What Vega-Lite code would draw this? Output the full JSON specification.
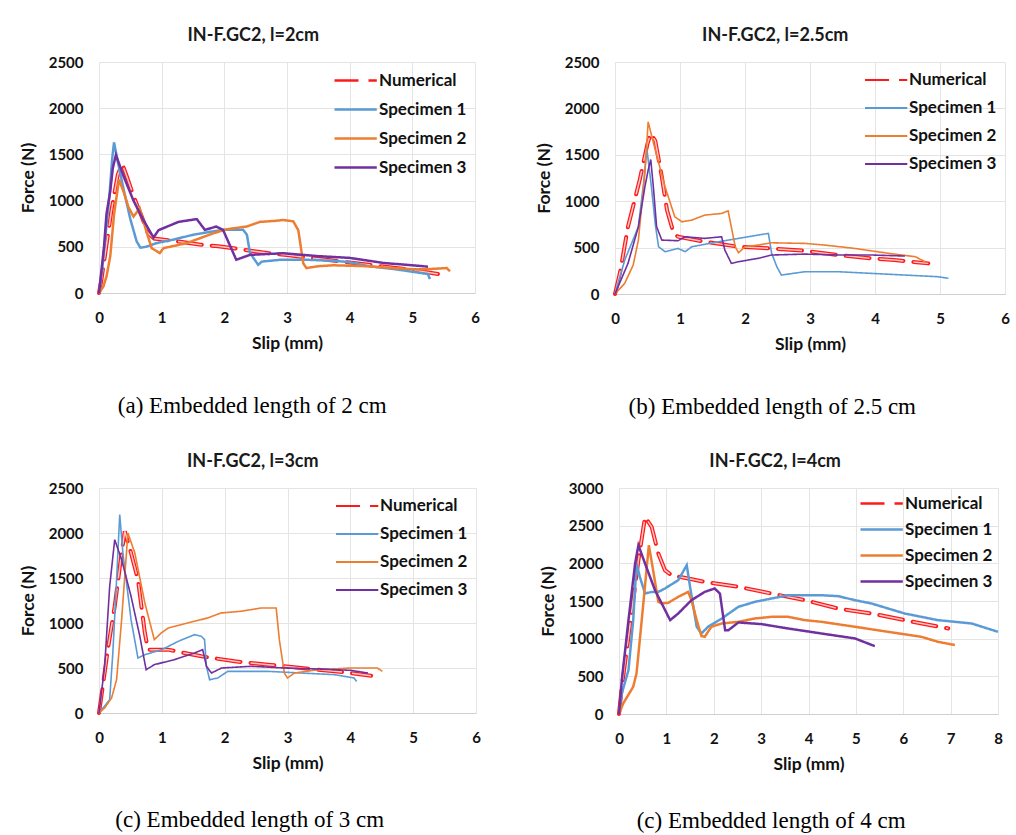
{
  "$schema": "https://vega.github.io/schema/vega-lite/v6.json",
  "background": "white",
  "padding": {"left": 19, "top": 27, "right": 2, "bottom": 2},
  "spacing": 34,
  "resolve": {"scale": {"color": "independent", "strokeDash": "independent"}, "legend": {"color": "independent", "strokeDash": "independent"}},
  "config": {
    "font": "Lato",
    "view": {"stroke": null},
    "title": {"font": "Lato", "fontSize": 18, "fontWeight": "bold", "color": "#1a1a1a", "anchor": "middle", "offset": 10, "frame": "bounds"},
    "axis": {"grid": true, "gridColor": "#e4e4e4", "ticks": false, "domain": false, "labelFont": "Lato", "labelFontSize": 15, "labelFontWeight": "bold", "labelColor": "#111111", "titleFont": "Lato", "titleFontSize": 17.5, "titleFontWeight": "bold", "titleColor": "#111111", "labelOverlap": false, "format": "d"},
    "axisX": {"domain": true, "domainColor": "#d0d0d0", "labelPadding": 17, "titlePadding": 9, "labelFlush": false},
    "axisY": {"labelPadding": 16, "titlePadding": 11},
    "legend": {"orient": "top-right", "offset": 8, "padding": 0, "symbolType": "M-1,0H3.7", "symbolSize": 324, "labelOffset": 25, "labelFont": "Lato", "labelFontSize": 17, "labelFontWeight": "bold", "labelColor": "#111111", "rowPadding": 10, "title": null}
  },
  "datasets": {
    "a": [
      {"s": "Numerical", "x": 0, "y": 0}, {"s": "Numerical", "x": 0.04, "y": 150}, {"s": "Numerical", "x": 0.1, "y": 430}, {"s": "Numerical", "x": 0.2, "y": 900}, {"s": "Numerical", "x": 0.3, "y": 1280}, {"s": "Numerical", "x": 0.37, "y": 1400}, {"s": "Numerical", "x": 0.45, "y": 1250}, {"s": "Numerical", "x": 0.55, "y": 1050}, {"s": "Numerical", "x": 0.68, "y": 830}, {"s": "Numerical", "x": 0.78, "y": 650}, {"s": "Numerical", "x": 0.88, "y": 590}, {"s": "Numerical", "x": 1.0, "y": 580}, {"s": "Numerical", "x": 1.3, "y": 555}, {"s": "Numerical", "x": 1.6, "y": 525}, {"s": "Numerical", "x": 1.9, "y": 505}, {"s": "Numerical", "x": 2.2, "y": 480}, {"s": "Numerical", "x": 2.6, "y": 440}, {"s": "Numerical", "x": 3.0, "y": 410}, {"s": "Numerical", "x": 3.5, "y": 370}, {"s": "Numerical", "x": 4.0, "y": 330}, {"s": "Numerical", "x": 4.5, "y": 290}, {"s": "Numerical", "x": 5.0, "y": 250}, {"s": "Numerical", "x": 5.47, "y": 200},
      {"s": "Specimen 1", "x": 0, "y": 0}, {"s": "Specimen 1", "x": 0.05, "y": 250}, {"s": "Specimen 1", "x": 0.1, "y": 600}, {"s": "Specimen 1", "x": 0.16, "y": 1000}, {"s": "Specimen 1", "x": 0.21, "y": 1450}, {"s": "Specimen 1", "x": 0.24, "y": 1630}, {"s": "Specimen 1", "x": 0.3, "y": 1420}, {"s": "Specimen 1", "x": 0.4, "y": 1100}, {"s": "Specimen 1", "x": 0.5, "y": 800}, {"s": "Specimen 1", "x": 0.6, "y": 560}, {"s": "Specimen 1", "x": 0.66, "y": 490}, {"s": "Specimen 1", "x": 0.75, "y": 500}, {"s": "Specimen 1", "x": 0.92, "y": 540}, {"s": "Specimen 1", "x": 1.2, "y": 580}, {"s": "Specimen 1", "x": 1.5, "y": 630}, {"s": "Specimen 1", "x": 1.8, "y": 665}, {"s": "Specimen 1", "x": 2.0, "y": 685}, {"s": "Specimen 1", "x": 2.3, "y": 685}, {"s": "Specimen 1", "x": 2.36, "y": 630}, {"s": "Specimen 1", "x": 2.41, "y": 432}, {"s": "Specimen 1", "x": 2.54, "y": 305}, {"s": "Specimen 1", "x": 2.6, "y": 340}, {"s": "Specimen 1", "x": 2.9, "y": 360}, {"s": "Specimen 1", "x": 3.3, "y": 360}, {"s": "Specimen 1", "x": 3.7, "y": 350}, {"s": "Specimen 1", "x": 4.0, "y": 335}, {"s": "Specimen 1", "x": 4.3, "y": 290}, {"s": "Specimen 1", "x": 4.7, "y": 260}, {"s": "Specimen 1", "x": 5.0, "y": 230}, {"s": "Specimen 1", "x": 5.25, "y": 205}, {"s": "Specimen 1", "x": 5.28, "y": 150},
      {"s": "Specimen 2", "x": 0, "y": 0}, {"s": "Specimen 2", "x": 0.07, "y": 70}, {"s": "Specimen 2", "x": 0.12, "y": 180}, {"s": "Specimen 2", "x": 0.18, "y": 400}, {"s": "Specimen 2", "x": 0.24, "y": 850}, {"s": "Specimen 2", "x": 0.32, "y": 1230}, {"s": "Specimen 2", "x": 0.4, "y": 1080}, {"s": "Specimen 2", "x": 0.47, "y": 930}, {"s": "Specimen 2", "x": 0.55, "y": 827}, {"s": "Specimen 2", "x": 0.65, "y": 917}, {"s": "Specimen 2", "x": 0.75, "y": 680}, {"s": "Specimen 2", "x": 0.84, "y": 486}, {"s": "Specimen 2", "x": 0.97, "y": 432}, {"s": "Specimen 2", "x": 1.03, "y": 486}, {"s": "Specimen 2", "x": 1.2, "y": 510}, {"s": "Specimen 2", "x": 1.4, "y": 540}, {"s": "Specimen 2", "x": 1.6, "y": 590}, {"s": "Specimen 2", "x": 1.82, "y": 645}, {"s": "Specimen 2", "x": 2.04, "y": 690}, {"s": "Specimen 2", "x": 2.36, "y": 720}, {"s": "Specimen 2", "x": 2.57, "y": 770}, {"s": "Specimen 2", "x": 2.8, "y": 780}, {"s": "Specimen 2", "x": 2.94, "y": 790}, {"s": "Specimen 2", "x": 3.1, "y": 775}, {"s": "Specimen 2", "x": 3.18, "y": 680}, {"s": "Specimen 2", "x": 3.26, "y": 320}, {"s": "Specimen 2", "x": 3.31, "y": 270}, {"s": "Specimen 2", "x": 3.5, "y": 290}, {"s": "Specimen 2", "x": 3.74, "y": 300}, {"s": "Specimen 2", "x": 4.27, "y": 290}, {"s": "Specimen 2", "x": 4.7, "y": 270}, {"s": "Specimen 2", "x": 5.07, "y": 255}, {"s": "Specimen 2", "x": 5.3, "y": 260}, {"s": "Specimen 2", "x": 5.55, "y": 270}, {"s": "Specimen 2", "x": 5.6, "y": 235},
      {"s": "Specimen 3", "x": 0, "y": 0}, {"s": "Specimen 3", "x": 0.04, "y": 250}, {"s": "Specimen 3", "x": 0.08, "y": 500}, {"s": "Specimen 3", "x": 0.12, "y": 860}, {"s": "Specimen 3", "x": 0.18, "y": 1100}, {"s": "Specimen 3", "x": 0.22, "y": 1350}, {"s": "Specimen 3", "x": 0.27, "y": 1495}, {"s": "Specimen 3", "x": 0.4, "y": 1250}, {"s": "Specimen 3", "x": 0.55, "y": 1000}, {"s": "Specimen 3", "x": 0.7, "y": 800}, {"s": "Specimen 3", "x": 0.87, "y": 600}, {"s": "Specimen 3", "x": 0.95, "y": 680}, {"s": "Specimen 3", "x": 1.27, "y": 770}, {"s": "Specimen 3", "x": 1.56, "y": 800}, {"s": "Specimen 3", "x": 1.69, "y": 683}, {"s": "Specimen 3", "x": 1.87, "y": 719}, {"s": "Specimen 3", "x": 1.98, "y": 683}, {"s": "Specimen 3", "x": 2.19, "y": 360}, {"s": "Specimen 3", "x": 2.41, "y": 413}, {"s": "Specimen 3", "x": 2.94, "y": 430}, {"s": "Specimen 3", "x": 3.47, "y": 400}, {"s": "Specimen 3", "x": 4.0, "y": 380}, {"s": "Specimen 3", "x": 4.54, "y": 325}, {"s": "Specimen 3", "x": 5.0, "y": 300}, {"s": "Specimen 3", "x": 5.25, "y": 285}
    ],
    "b": [
      {"s": "Numerical", "x": 0, "y": 0}, {"s": "Numerical", "x": 0.08, "y": 240}, {"s": "Numerical", "x": 0.2, "y": 725}, {"s": "Numerical", "x": 0.38, "y": 1229}, {"s": "Numerical", "x": 0.5, "y": 1620}, {"s": "Numerical", "x": 0.55, "y": 1730}, {"s": "Numerical", "x": 0.62, "y": 1650}, {"s": "Numerical", "x": 0.72, "y": 1264}, {"s": "Numerical", "x": 0.8, "y": 905}, {"s": "Numerical", "x": 0.9, "y": 660}, {"s": "Numerical", "x": 0.97, "y": 617}, {"s": "Numerical", "x": 1.38, "y": 563}, {"s": "Numerical", "x": 1.9, "y": 509}, {"s": "Numerical", "x": 2.41, "y": 491}, {"s": "Numerical", "x": 2.92, "y": 466}, {"s": "Numerical", "x": 3.44, "y": 420}, {"s": "Numerical", "x": 3.95, "y": 384}, {"s": "Numerical", "x": 4.3, "y": 366}, {"s": "Numerical", "x": 4.82, "y": 330},
      {"s": "Specimen 1", "x": 0, "y": 0}, {"s": "Specimen 1", "x": 0.15, "y": 366}, {"s": "Specimen 1", "x": 0.36, "y": 725}, {"s": "Specimen 1", "x": 0.44, "y": 1200}, {"s": "Specimen 1", "x": 0.49, "y": 1567}, {"s": "Specimen 1", "x": 0.56, "y": 1155}, {"s": "Specimen 1", "x": 0.62, "y": 750}, {"s": "Specimen 1", "x": 0.67, "y": 509}, {"s": "Specimen 1", "x": 0.77, "y": 456}, {"s": "Specimen 1", "x": 0.97, "y": 491}, {"s": "Specimen 1", "x": 1.08, "y": 456}, {"s": "Specimen 1", "x": 1.18, "y": 509}, {"s": "Specimen 1", "x": 1.59, "y": 563}, {"s": "Specimen 1", "x": 1.9, "y": 599}, {"s": "Specimen 1", "x": 2.2, "y": 635}, {"s": "Specimen 1", "x": 2.36, "y": 653}, {"s": "Specimen 1", "x": 2.41, "y": 438}, {"s": "Specimen 1", "x": 2.49, "y": 294}, {"s": "Specimen 1", "x": 2.56, "y": 204}, {"s": "Specimen 1", "x": 2.92, "y": 240}, {"s": "Specimen 1", "x": 3.44, "y": 240}, {"s": "Specimen 1", "x": 3.95, "y": 222}, {"s": "Specimen 1", "x": 4.46, "y": 204}, {"s": "Specimen 1", "x": 4.97, "y": 186}, {"s": "Specimen 1", "x": 5.13, "y": 169},
      {"s": "Specimen 2", "x": 0, "y": 0}, {"s": "Specimen 2", "x": 0.15, "y": 115}, {"s": "Specimen 2", "x": 0.28, "y": 312}, {"s": "Specimen 2", "x": 0.36, "y": 581}, {"s": "Specimen 2", "x": 0.46, "y": 1298}, {"s": "Specimen 2", "x": 0.51, "y": 1855}, {"s": "Specimen 2", "x": 0.62, "y": 1550}, {"s": "Specimen 2", "x": 0.77, "y": 1155}, {"s": "Specimen 2", "x": 0.92, "y": 832}, {"s": "Specimen 2", "x": 1.03, "y": 778}, {"s": "Specimen 2", "x": 1.18, "y": 796}, {"s": "Specimen 2", "x": 1.38, "y": 850}, {"s": "Specimen 2", "x": 1.64, "y": 868}, {"s": "Specimen 2", "x": 1.74, "y": 897}, {"s": "Specimen 2", "x": 1.85, "y": 509}, {"s": "Specimen 2", "x": 1.9, "y": 445}, {"s": "Specimen 2", "x": 2.0, "y": 509}, {"s": "Specimen 2", "x": 2.2, "y": 527}, {"s": "Specimen 2", "x": 2.41, "y": 552}, {"s": "Specimen 2", "x": 2.92, "y": 545}, {"s": "Specimen 2", "x": 3.23, "y": 527}, {"s": "Specimen 2", "x": 3.69, "y": 491}, {"s": "Specimen 2", "x": 4.21, "y": 438}, {"s": "Specimen 2", "x": 4.62, "y": 402}, {"s": "Specimen 2", "x": 4.77, "y": 348},
      {"s": "Specimen 3", "x": 0, "y": 0}, {"s": "Specimen 3", "x": 0.2, "y": 330}, {"s": "Specimen 3", "x": 0.36, "y": 725}, {"s": "Specimen 3", "x": 0.46, "y": 1155}, {"s": "Specimen 3", "x": 0.51, "y": 1334}, {"s": "Specimen 3", "x": 0.55, "y": 1449}, {"s": "Specimen 3", "x": 0.59, "y": 1155}, {"s": "Specimen 3", "x": 0.64, "y": 725}, {"s": "Specimen 3", "x": 0.72, "y": 581}, {"s": "Specimen 3", "x": 0.97, "y": 574}, {"s": "Specimen 3", "x": 1.08, "y": 617}, {"s": "Specimen 3", "x": 1.38, "y": 599}, {"s": "Specimen 3", "x": 1.64, "y": 617}, {"s": "Specimen 3", "x": 1.69, "y": 473}, {"s": "Specimen 3", "x": 1.79, "y": 330}, {"s": "Specimen 3", "x": 1.9, "y": 348}, {"s": "Specimen 3", "x": 2.2, "y": 384}, {"s": "Specimen 3", "x": 2.41, "y": 420}, {"s": "Specimen 3", "x": 2.92, "y": 430}, {"s": "Specimen 3", "x": 3.44, "y": 420}, {"s": "Specimen 3", "x": 3.95, "y": 420}, {"s": "Specimen 3", "x": 4.46, "y": 409}
    ],
    "c": [
      {"s": "Numerical", "x": 0, "y": 0}, {"s": "Numerical", "x": 0.06, "y": 296}, {"s": "Numerical", "x": 0.14, "y": 704}, {"s": "Numerical", "x": 0.25, "y": 1185}, {"s": "Numerical", "x": 0.36, "y": 1778}, {"s": "Numerical", "x": 0.41, "y": 2019}, {"s": "Numerical", "x": 0.51, "y": 1778}, {"s": "Numerical", "x": 0.62, "y": 1482}, {"s": "Numerical", "x": 0.73, "y": 889}, {"s": "Numerical", "x": 0.78, "y": 704}, {"s": "Numerical", "x": 1.1, "y": 704}, {"s": "Numerical", "x": 1.63, "y": 630}, {"s": "Numerical", "x": 2.16, "y": 574}, {"s": "Numerical", "x": 2.69, "y": 537}, {"s": "Numerical", "x": 3.22, "y": 500}, {"s": "Numerical", "x": 3.75, "y": 463}, {"s": "Numerical", "x": 4.01, "y": 444}, {"s": "Numerical", "x": 4.33, "y": 415},
      {"s": "Specimen 1", "x": 0, "y": 0}, {"s": "Specimen 1", "x": 0.17, "y": 148}, {"s": "Specimen 1", "x": 0.22, "y": 667}, {"s": "Specimen 1", "x": 0.28, "y": 1482}, {"s": "Specimen 1", "x": 0.33, "y": 2204}, {"s": "Specimen 1", "x": 0.38, "y": 1778}, {"s": "Specimen 1", "x": 0.51, "y": 1037}, {"s": "Specimen 1", "x": 0.62, "y": 611}, {"s": "Specimen 1", "x": 0.73, "y": 648}, {"s": "Specimen 1", "x": 1.0, "y": 704}, {"s": "Specimen 1", "x": 1.26, "y": 796}, {"s": "Specimen 1", "x": 1.52, "y": 870}, {"s": "Specimen 1", "x": 1.63, "y": 852}, {"s": "Specimen 1", "x": 1.68, "y": 815}, {"s": "Specimen 1", "x": 1.71, "y": 519}, {"s": "Specimen 1", "x": 1.76, "y": 370}, {"s": "Specimen 1", "x": 1.89, "y": 389}, {"s": "Specimen 1", "x": 2.05, "y": 463}, {"s": "Specimen 1", "x": 2.69, "y": 463}, {"s": "Specimen 1", "x": 3.22, "y": 444}, {"s": "Specimen 1", "x": 3.75, "y": 426}, {"s": "Specimen 1", "x": 4.06, "y": 389}, {"s": "Specimen 1", "x": 4.1, "y": 350},
      {"s": "Specimen 2", "x": 0, "y": 0}, {"s": "Specimen 2", "x": 0.09, "y": 56}, {"s": "Specimen 2", "x": 0.2, "y": 167}, {"s": "Specimen 2", "x": 0.28, "y": 370}, {"s": "Specimen 2", "x": 0.36, "y": 1037}, {"s": "Specimen 2", "x": 0.46, "y": 2000}, {"s": "Specimen 2", "x": 0.57, "y": 1778}, {"s": "Specimen 2", "x": 0.73, "y": 1222}, {"s": "Specimen 2", "x": 0.88, "y": 815}, {"s": "Specimen 2", "x": 0.99, "y": 889}, {"s": "Specimen 2", "x": 1.1, "y": 944}, {"s": "Specimen 2", "x": 1.41, "y": 1000}, {"s": "Specimen 2", "x": 1.73, "y": 1056}, {"s": "Specimen 2", "x": 1.94, "y": 1111}, {"s": "Specimen 2", "x": 2.26, "y": 1130}, {"s": "Specimen 2", "x": 2.58, "y": 1167}, {"s": "Specimen 2", "x": 2.82, "y": 1167}, {"s": "Specimen 2", "x": 2.87, "y": 815}, {"s": "Specimen 2", "x": 2.95, "y": 444}, {"s": "Specimen 2", "x": 3.0, "y": 389}, {"s": "Specimen 2", "x": 3.11, "y": 444}, {"s": "Specimen 2", "x": 3.48, "y": 481}, {"s": "Specimen 2", "x": 4.01, "y": 500}, {"s": "Specimen 2", "x": 4.43, "y": 500}, {"s": "Specimen 2", "x": 4.51, "y": 463},
      {"s": "Specimen 3", "x": 0, "y": 0}, {"s": "Specimen 3", "x": 0.09, "y": 519}, {"s": "Specimen 3", "x": 0.17, "y": 1407}, {"s": "Specimen 3", "x": 0.25, "y": 1926}, {"s": "Specimen 3", "x": 0.36, "y": 1704}, {"s": "Specimen 3", "x": 0.51, "y": 1296}, {"s": "Specimen 3", "x": 0.65, "y": 852}, {"s": "Specimen 3", "x": 0.75, "y": 481}, {"s": "Specimen 3", "x": 0.88, "y": 537}, {"s": "Specimen 3", "x": 1.2, "y": 593}, {"s": "Specimen 3", "x": 1.52, "y": 667}, {"s": "Specimen 3", "x": 1.65, "y": 704}, {"s": "Specimen 3", "x": 1.71, "y": 519}, {"s": "Specimen 3", "x": 1.79, "y": 444}, {"s": "Specimen 3", "x": 1.95, "y": 500}, {"s": "Specimen 3", "x": 2.42, "y": 519}, {"s": "Specimen 3", "x": 2.95, "y": 500}, {"s": "Specimen 3", "x": 3.48, "y": 489}, {"s": "Specimen 3", "x": 4.01, "y": 474}, {"s": "Specimen 3", "x": 4.28, "y": 444}
    ],
    "d": [
      {"s": "Numerical", "x": 0, "y": 0}, {"s": "Numerical", "x": 0.06, "y": 362}, {"s": "Numerical", "x": 0.2, "y": 1025}, {"s": "Numerical", "x": 0.41, "y": 2041}, {"s": "Numerical", "x": 0.55, "y": 2615}, {"s": "Numerical", "x": 0.69, "y": 2483}, {"s": "Numerical", "x": 0.83, "y": 2130}, {"s": "Numerical", "x": 0.97, "y": 1909}, {"s": "Numerical", "x": 1.11, "y": 1842}, {"s": "Numerical", "x": 1.46, "y": 1798}, {"s": "Numerical", "x": 1.81, "y": 1754}, {"s": "Numerical", "x": 2.52, "y": 1688}, {"s": "Numerical", "x": 3.22, "y": 1599}, {"s": "Numerical", "x": 3.92, "y": 1511}, {"s": "Numerical", "x": 4.63, "y": 1400}, {"s": "Numerical", "x": 5.33, "y": 1334}, {"s": "Numerical", "x": 6.03, "y": 1246}, {"s": "Numerical", "x": 6.95, "y": 1135},
      {"s": "Specimen 1", "x": 0, "y": 0}, {"s": "Specimen 1", "x": 0.06, "y": 274}, {"s": "Specimen 1", "x": 0.2, "y": 583}, {"s": "Specimen 1", "x": 0.3, "y": 1246}, {"s": "Specimen 1", "x": 0.37, "y": 1997}, {"s": "Specimen 1", "x": 0.44, "y": 1820}, {"s": "Specimen 1", "x": 0.55, "y": 1599}, {"s": "Specimen 1", "x": 0.69, "y": 1621}, {"s": "Specimen 1", "x": 0.83, "y": 1621}, {"s": "Specimen 1", "x": 0.97, "y": 1666}, {"s": "Specimen 1", "x": 1.25, "y": 1776}, {"s": "Specimen 1", "x": 1.43, "y": 1975}, {"s": "Specimen 1", "x": 1.5, "y": 1688}, {"s": "Specimen 1", "x": 1.64, "y": 1158}, {"s": "Specimen 1", "x": 1.74, "y": 1069}, {"s": "Specimen 1", "x": 1.88, "y": 1158}, {"s": "Specimen 1", "x": 2.17, "y": 1268}, {"s": "Specimen 1", "x": 2.52, "y": 1423}, {"s": "Specimen 1", "x": 2.87, "y": 1489}, {"s": "Specimen 1", "x": 3.22, "y": 1533}, {"s": "Specimen 1", "x": 3.57, "y": 1577}, {"s": "Specimen 1", "x": 4.27, "y": 1577}, {"s": "Specimen 1", "x": 4.63, "y": 1564}, {"s": "Specimen 1", "x": 4.98, "y": 1511}, {"s": "Specimen 1", "x": 5.33, "y": 1467}, {"s": "Specimen 1", "x": 6.03, "y": 1334}, {"s": "Specimen 1", "x": 6.73, "y": 1246}, {"s": "Specimen 1", "x": 7.44, "y": 1202}, {"s": "Specimen 1", "x": 8.0, "y": 1091},
      {"s": "Specimen 2", "x": 0, "y": 0}, {"s": "Specimen 2", "x": 0.09, "y": 141}, {"s": "Specimen 2", "x": 0.3, "y": 362}, {"s": "Specimen 2", "x": 0.37, "y": 539}, {"s": "Specimen 2", "x": 0.48, "y": 1246}, {"s": "Specimen 2", "x": 0.58, "y": 1909}, {"s": "Specimen 2", "x": 0.63, "y": 2240}, {"s": "Specimen 2", "x": 0.72, "y": 1909}, {"s": "Specimen 2", "x": 0.83, "y": 1489}, {"s": "Specimen 2", "x": 0.9, "y": 1467}, {"s": "Specimen 2", "x": 1.04, "y": 1476}, {"s": "Specimen 2", "x": 1.25, "y": 1555}, {"s": "Specimen 2", "x": 1.46, "y": 1621}, {"s": "Specimen 2", "x": 1.53, "y": 1511}, {"s": "Specimen 2", "x": 1.64, "y": 1246}, {"s": "Specimen 2", "x": 1.74, "y": 1034}, {"s": "Specimen 2", "x": 1.81, "y": 1025}, {"s": "Specimen 2", "x": 1.95, "y": 1158}, {"s": "Specimen 2", "x": 2.17, "y": 1202}, {"s": "Specimen 2", "x": 2.52, "y": 1224}, {"s": "Specimen 2", "x": 2.87, "y": 1268}, {"s": "Specimen 2", "x": 3.22, "y": 1290}, {"s": "Specimen 2", "x": 3.57, "y": 1290}, {"s": "Specimen 2", "x": 3.92, "y": 1246}, {"s": "Specimen 2", "x": 4.27, "y": 1224}, {"s": "Specimen 2", "x": 4.98, "y": 1158}, {"s": "Specimen 2", "x": 5.68, "y": 1091}, {"s": "Specimen 2", "x": 6.38, "y": 1025}, {"s": "Specimen 2", "x": 6.73, "y": 959}, {"s": "Specimen 2", "x": 7.09, "y": 915},
      {"s": "Specimen 3", "x": 0, "y": 0}, {"s": "Specimen 3", "x": 0.06, "y": 451}, {"s": "Specimen 3", "x": 0.2, "y": 1246}, {"s": "Specimen 3", "x": 0.34, "y": 1997}, {"s": "Specimen 3", "x": 0.41, "y": 2240}, {"s": "Specimen 3", "x": 0.55, "y": 1997}, {"s": "Specimen 3", "x": 0.76, "y": 1643}, {"s": "Specimen 3", "x": 1.08, "y": 1246}, {"s": "Specimen 3", "x": 1.25, "y": 1334}, {"s": "Specimen 3", "x": 1.53, "y": 1511}, {"s": "Specimen 3", "x": 1.81, "y": 1621}, {"s": "Specimen 3", "x": 2.02, "y": 1666}, {"s": "Specimen 3", "x": 2.13, "y": 1599}, {"s": "Specimen 3", "x": 2.24, "y": 1113}, {"s": "Specimen 3", "x": 2.31, "y": 1113}, {"s": "Specimen 3", "x": 2.52, "y": 1215}, {"s": "Specimen 3", "x": 3.01, "y": 1193}, {"s": "Specimen 3", "x": 3.57, "y": 1135}, {"s": "Specimen 3", "x": 4.27, "y": 1069}, {"s": "Specimen 3", "x": 4.98, "y": 1003}, {"s": "Specimen 3", "x": 5.4, "y": 901}
    ]
  },
  "vconcat": [
    {
      "spacing": 55,
      "resolve": {"scale": {"color": "independent", "strokeDash": "independent"}, "legend": {"color": "independent", "strokeDash": "independent"}},
      "hconcat": [
        {
          "title": {"text": "(a) Embedded length of 2 cm", "orient": "bottom", "anchor": "middle", "font": "Liberation Serif", "fontSize": 23, "fontWeight": "normal", "color": "#000000", "offset": 43, "dx": 3},
          "resolve": {"scale": {"color": "independent", "strokeDash": "independent"}, "legend": {"color": "independent", "strokeDash": "independent"}},
          "vconcat": [
            {
              "width": 376, "height": 231,
              "title": {"text": "IN-F.GC2, l=2cm", "dx": 4},
              "data": {"name": "a"},
              "encoding": {
                "x": {"field": "x", "type": "quantitative", "scale": {"domain": [0, 6]}, "axis": {"values": [0, 1, 2, 3, 4, 5, 6], "title": "Slip (mm)"}},
                "y": {"field": "y", "type": "quantitative", "scale": {"domain": [0, 2500]}, "axis": {"values": [0, 500, 1000, 1500, 2000, 2500], "title": "Force (N)"}}
              },
              "layer": [
                {"transform": [{"filter": "datum.s === 'Numerical'"}], "mark": {"type": "line", "strokeWidth": 4, "strokeCap": "round", "order": false},
                 "encoding": {"color": {"field": "s", "type": "nominal", "scale": {"domain": ["Numerical", "Specimen 1", "Specimen 2", "Specimen 3"], "range": ["#ff1a1a", "#5b9bd5", "#ed7d31", "#7030a0"]}, "legend": {"symbolStrokeWidth": 2.5}},
                              "strokeDash": {"field": "s", "type": "nominal", "scale": {"domain": ["Numerical", "Specimen 1", "Specimen 2", "Specimen 3"], "range": [[24, 10], [1, 0], [1, 0], [1, 0]]}}}},
                {"transform": [{"filter": "datum.s === 'Numerical'"}], "mark": {"type": "line", "strokeWidth": 1.5, "color": "#ffc6c6", "strokeDash": [24, 10], "order": false}, "encoding": {}},
                {"transform": [{"filter": "datum.s !== 'Numerical'"}], "mark": {"type": "line", "strokeWidth": 2.5, "order": false},
                 "encoding": {"color": {"field": "s", "type": "nominal", "legend": {"symbolStrokeWidth": 2.5}}, "strokeDash": {"field": "s", "type": "nominal"}}}
              ]
            }
          ]
        },
        {
          "title": {"text": "(b) Embedded length of 2.5 cm", "orient": "bottom", "anchor": "middle", "font": "Liberation Serif", "fontSize": 23, "fontWeight": "normal", "color": "#000000", "offset": 43},
          "resolve": {"scale": {"color": "independent", "strokeDash": "independent"}, "legend": {"color": "independent", "strokeDash": "independent"}},
          "vconcat": [
            {
              "width": 390, "height": 232,
              "title": {"text": "IN-F.GC2, l=2.5cm", "dx": 3},
              "data": {"name": "b"},
              "encoding": {
                "x": {"field": "x", "type": "quantitative", "scale": {"domain": [0, 6]}, "axis": {"values": [0, 1, 2, 3, 4, 5, 6], "title": "Slip (mm)"}},
                "y": {"field": "y", "type": "quantitative", "scale": {"domain": [0, 2500]}, "axis": {"values": [0, 500, 1000, 1500, 2000, 2500], "title": "Force (N)"}}
              },
              "layer": [
                {"transform": [{"filter": "datum.s === 'Numerical'"}], "mark": {"type": "line", "strokeWidth": 4, "strokeCap": "round", "order": false},
                 "encoding": {"color": {"field": "s", "type": "nominal", "scale": {"domain": ["Numerical", "Specimen 1", "Specimen 2", "Specimen 3"], "range": ["#ff1a1a", "#5b9bd5", "#ed7d31", "#7030a0"]}, "legend": {"symbolStrokeWidth": 1.8}},
                              "strokeDash": {"field": "s", "type": "nominal", "scale": {"domain": ["Numerical", "Specimen 1", "Specimen 2", "Specimen 3"], "range": [[24, 10], [1, 0], [1, 0], [1, 0]]}}}},
                {"transform": [{"filter": "datum.s === 'Numerical'"}], "mark": {"type": "line", "strokeWidth": 1.5, "color": "#ffc6c6", "strokeDash": [24, 10], "order": false}, "encoding": {}},
                {"transform": [{"filter": "datum.s !== 'Numerical'"}], "mark": {"type": "line", "strokeWidth": 1.6, "order": false},
                 "encoding": {"color": {"field": "s", "type": "nominal", "legend": {"symbolStrokeWidth": 1.8}}, "strokeDash": {"field": "s", "type": "nominal"}}}
              ]
            }
          ]
        }
      ]
    },
    {
      "spacing": 58,
      "resolve": {"scale": {"color": "independent", "strokeDash": "independent"}, "legend": {"color": "independent", "strokeDash": "independent"}},
      "hconcat": [
        {
          "title": {"text": "(c) Embedded length of 3 cm", "orient": "bottom", "anchor": "middle", "font": "Liberation Serif", "fontSize": 23, "fontWeight": "normal", "color": "#000000", "offset": 37},
          "resolve": {"scale": {"color": "independent", "strokeDash": "independent"}, "legend": {"color": "independent", "strokeDash": "independent"}},
          "vconcat": [
            {
              "width": 377, "height": 225,
              "title": {"text": "IN-F.GC2, l=3cm", "dx": 3},
              "data": {"name": "c"},
              "encoding": {
                "x": {"field": "x", "type": "quantitative", "scale": {"domain": [0, 6]}, "axis": {"values": [0, 1, 2, 3, 4, 5, 6], "title": "Slip (mm)"}},
                "y": {"field": "y", "type": "quantitative", "scale": {"domain": [0, 2500]}, "axis": {"values": [0, 500, 1000, 1500, 2000, 2500], "title": "Force (N)"}}
              },
              "layer": [
                {"transform": [{"filter": "datum.s === 'Numerical'"}], "mark": {"type": "line", "strokeWidth": 4, "strokeCap": "round", "order": false},
                 "encoding": {"color": {"field": "s", "type": "nominal", "scale": {"domain": ["Numerical", "Specimen 1", "Specimen 2", "Specimen 3"], "range": ["#ff1a1a", "#5b9bd5", "#ed7d31", "#7030a0"]}, "legend": {"symbolStrokeWidth": 1.8}},
                              "strokeDash": {"field": "s", "type": "nominal", "scale": {"domain": ["Numerical", "Specimen 1", "Specimen 2", "Specimen 3"], "range": [[24, 10], [1, 0], [1, 0], [1, 0]]}}}},
                {"transform": [{"filter": "datum.s === 'Numerical'"}], "mark": {"type": "line", "strokeWidth": 1.5, "color": "#ffc6c6", "strokeDash": [24, 10], "order": false}, "encoding": {}},
                {"transform": [{"filter": "datum.s !== 'Numerical'"}], "mark": {"type": "line", "strokeWidth": 1.6, "order": false},
                 "encoding": {"color": {"field": "s", "type": "nominal", "legend": {"symbolStrokeWidth": 1.8}}, "strokeDash": {"field": "s", "type": "nominal"}}}
              ]
            }
          ]
        },
        {
          "title": {"text": "(c) Embedded length of 4 cm", "orient": "bottom", "anchor": "middle", "font": "Liberation Serif", "fontSize": 23, "fontWeight": "normal", "color": "#000000", "offset": 37},
          "resolve": {"scale": {"color": "independent", "strokeDash": "independent"}, "legend": {"color": "independent", "strokeDash": "independent"}},
          "vconcat": [
            {
              "width": 379, "height": 226,
              "title": {"text": "IN-F.GC2, l=4cm", "dx": 4},
              "data": {"name": "d"},
              "encoding": {
                "x": {"field": "x", "type": "quantitative", "scale": {"domain": [0, 8]}, "axis": {"values": [0, 1, 2, 3, 4, 5, 6, 7, 8], "title": "Slip (mm)"}},
                "y": {"field": "y", "type": "quantitative", "scale": {"domain": [0, 3000]}, "axis": {"values": [0, 500, 1000, 1500, 2000, 2500, 3000], "title": "Force (N)"}}
              },
              "layer": [
                {"transform": [{"filter": "datum.s === 'Numerical'"}], "mark": {"type": "line", "strokeWidth": 4, "strokeCap": "round", "order": false},
                 "encoding": {"color": {"field": "s", "type": "nominal", "scale": {"domain": ["Numerical", "Specimen 1", "Specimen 2", "Specimen 3"], "range": ["#ff1a1a", "#5b9bd5", "#ed7d31", "#7030a0"]}, "legend": {"symbolStrokeWidth": 2.5, "rowPadding": 7, "offset": 5}},
                              "strokeDash": {"field": "s", "type": "nominal", "scale": {"domain": ["Numerical", "Specimen 1", "Specimen 2", "Specimen 3"], "range": [[24, 10], [1, 0], [1, 0], [1, 0]]}}}},
                {"transform": [{"filter": "datum.s === 'Numerical'"}], "mark": {"type": "line", "strokeWidth": 1.5, "color": "#ffc6c6", "strokeDash": [24, 10], "order": false}, "encoding": {}},
                {"transform": [{"filter": "datum.s !== 'Numerical'"}], "mark": {"type": "line", "strokeWidth": 2.5, "order": false},
                 "encoding": {"color": {"field": "s", "type": "nominal", "legend": {"symbolStrokeWidth": 2.5, "rowPadding": 7, "offset": 5}}, "strokeDash": {"field": "s", "type": "nominal"}}}
              ]
            }
          ]
        }
      ]
    }
  ]
}
